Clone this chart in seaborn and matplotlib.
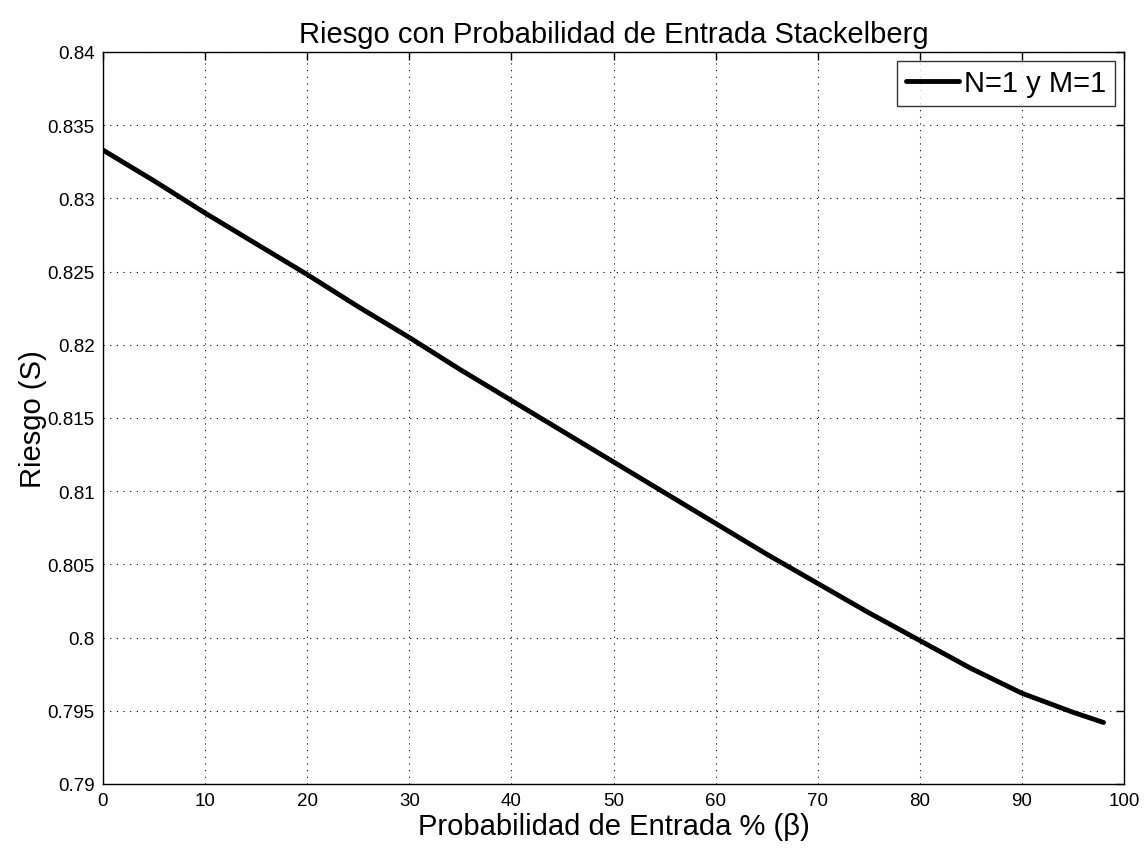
import pandas as pd
import seaborn as sns
import matplotlib.pyplot as plt

# values
beta = [0, 5, 10, 15, 20, 25, 30, 35, 40, 45, 50, 55, 60, 65, 70, 75, 80, 85, 90, 95, 98]
riesgo = [0.8333, 0.8312, 0.8290, 0.8269, 0.8248, 0.8226, 0.8205, 0.8183, 0.8162, 0.8141,
          0.8120, 0.8099, 0.8078, 0.8057, 0.8037, 0.8017, 0.7998, 0.7979, 0.7962, 0.7949, 0.7942]
yticks = [0.79, 0.795, 0.8, 0.805, 0.81, 0.815, 0.82, 0.825, 0.83, 0.835, 0.84]
ytick_labels = ["0.79", "0.795", "0.8", "0.805", "0.81", "0.815", "0.82", "0.825", "0.83", "0.835", "0.84"]

df = pd.DataFrame({"beta": beta, "riesgo": riesgo})

sns.set_style("white", {"text.color": "black", "xtick.color": "black", "ytick.color": "black",
                        "axes.labelcolor": "black"})
plt.rcParams['font.family'] = ['Liberation Sans', 'DejaVu Sans']

fig = plt.figure(figsize=(11.47, 8.53), dpi=100)
ax = fig.add_axes([103 / 1147, 1 - 785 / 853, (1124 - 103) / 1147, (785 - 53) / 853])

sns.lineplot(data=df, x="beta", y="riesgo", color="black", linewidth=3.5, label="N=1 y M=1", ax=ax)

ax.set_xlim(0, 100)
ax.set_ylim(0.79, 0.84)
ax.set_xticks(range(0, 101, 10))
ax.set_yticks(yticks)
ax.set_yticklabels(ytick_labels)
ax.tick_params(direction="in", length=6, labelsize=13.5, top=True, right=True, width=1, pad=6,
               colors="black")
ax.grid(True, linestyle=(0, (1, 5)), color="black", linewidth=0.8)
for s in ax.spines.values():
    s.set_color("black")
    s.set_linewidth(1)

ax.set_xlabel("Probabilidad de Entrada % (β)", fontsize=21, labelpad=2, color="black")
ax.set_ylabel("Riesgo (S)", fontsize=21, labelpad=0, color="black")
ax.set_title("Riesgo con Probabilidad de Entrada Stackelberg", fontsize=21, pad=7, color="black")

leg = ax.legend(loc="upper right", fontsize=21, frameon=True, fancybox=False,
                handlelength=1.8, handletextpad=0.2, borderpad=0.3, borderaxespad=0.3)
leg.get_frame().set_edgecolor("black")
leg.get_frame().set_linewidth(1)
for t in leg.get_texts():
    t.set_color("black")

fig.savefig("out.png", dpi=100)
